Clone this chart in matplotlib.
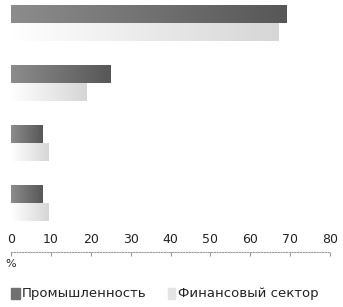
import numpy as np
import matplotlib.pyplot as plt
from matplotlib.patches import Rectangle
from matplotlib.colors import LinearSegmentedColormap

# данные
groups = [0, 1, 2, 3]
industry = [69, 25, 8, 8]
finance = [67, 19, 9.5, 9.5]
ticks = [0, 10, 20, 30, 40, 50, 60, 70, 80]
labels = ['Промышленность', 'Финансовый сектор']

fig = plt.figure(figsize=(3.43, 3.07), dpi=100)
ax = fig.add_axes([11 / 343, 1 - 252 / 307, 319 / 343, 252 / 307])

h = 0.3
y = np.array(groups)


def grad_bars(ys, vals, c0, c1):
    # полосы с градиентом слева направо
    bars = ax.barh(ys, vals, height=h, color=c1, linewidth=0)
    grad = np.linspace(0, 1, 256).reshape(1, -1)
    cmap = LinearSegmentedColormap.from_list('g', [c0, c1])
    for b in bars:
        x0, y0 = b.get_x(), b.get_y()
        w, hh = b.get_width(), b.get_height()
        im = ax.imshow(grad, extent=[x0, x0 + w, y0 + hh, y0], cmap=cmap,
                       aspect='auto', zorder=3)
        im.set_clip_path(b)
    return bars


grad_bars(y - h / 2, industry, '#8c8c8c', '#575757')
grad_bars(y + h / 2, finance, '#ffffff', '#d6d6d6')

ax.set_xlim(0, 80)
ax.set_ylim(3.817, -0.383)
ax.set_xticks(ticks)
ax.set_yticks([])
for s in ['top', 'right', 'left']:
    ax.spines[s].set_visible(False)
ax.spines['bottom'].set_linestyle((0, (1, 1.5)))
ax.spines['bottom'].set_color('#999999')
ax.tick_params(axis='x', length=3, color='#999999', labelsize=9,
               labelcolor='#222222', pad=-17)

fig.text(5 / 343, 1 - 264 / 307, '%', fontsize=8, color='#222222', va='center')

# легенда
fig.patches.append(Rectangle((11 / 343, 1 - 299 / 307), 9 / 343, 11 / 307,
                             transform=fig.transFigure, color='#707070'))
fig.text(22 / 343, 1 - 293 / 307, labels[0], fontsize=9.5, color='#222222', va='center')
fig.patches.append(Rectangle((168 / 343, 1 - 299 / 307), 7 / 343, 11 / 307,
                             transform=fig.transFigure, color='#e4e4e4'))
fig.text(178 / 343, 1 - 293 / 307, labels[1], fontsize=9.5, color='#222222', va='center')

fig.savefig('out.png', dpi=100)
